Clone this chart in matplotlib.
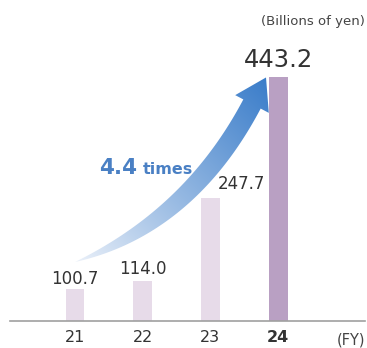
import numpy as np
import matplotlib.pyplot as plt
from matplotlib.patches import Polygon

# Sales by fiscal year (billions of yen)
years = ['21', '22', '23', '24']
sales = [100.7, 114.0, 247.7, 443.2]
sales_labels = ['100.7', '114.0', '247.7', '443.2']
growth_text = '4.4'
unit_text = '(Billions of yen)'

W, H = 367, 348
fig = plt.figure(figsize=(W / 100, H / 100), dpi=100)

# overlay in pixel coordinates for the growth arrow
ov = fig.add_axes([0, 0, 1, 1], zorder=0)
ov.set_xlim(0, W)
ov.set_ylim(H, 0)
ov.axis('off')

ax = fig.add_axes([10 / W, (H - 321) / H, 355 / W, 291 / H], zorder=1)
ax.patch.set_visible(False)

x = np.arange(len(years))
colors = ['#e7dbe9', '#e7dbe9', '#e7dbe9', '#b9a0c3']
ax.bar(x, sales, width=0.28, color=colors, zorder=2)
ax.set_xlim(-0.96, 4.285)
ax.set_ylim(50, 518)

for sp in ['left', 'right', 'top']:
    ax.spines[sp].set_visible(False)
ax.spines['bottom'].set_color('#a0a0a0')
ax.spines['bottom'].set_linewidth(1.2)
ax.set_yticks([])
ax.set_xticks(x, years)
ax.tick_params(axis='x', length=0, pad=6.5, labelsize=11.5, labelcolor='#333333')
ax.get_xticklabels()[-1].set_fontweight('bold')

# value labels
txt = dict(color='#333333', va='baseline', textcoords='offset points')
ax.annotate(sales_labels[0], (x[0], sales[0]), xytext=(0, 4.3), ha='center', fontsize=12, **txt)
ax.annotate(sales_labels[1], (x[1], sales[1]), xytext=(0, 5.3), ha='center', fontsize=12, **txt)
ax.annotate(sales_labels[2], (x[2], sales[2]), xytext=(5.6, 6.8), ha='left', fontsize=12, **txt)
ax.annotate(sales_labels[3], (x[3], sales[3]), xytext=(0, 6.5), ha='center', fontsize=17.5, **txt)

ov.text(365, 21, unit_text, ha='right', va='center', fontsize=9.5, color='#444444')
ov.text(365, 340, '(FY)', ha='right', va='center', fontsize=10.5, color='#444444')

# curved arrow: quadratic bezier shaft + triangular head
p0 = np.array([75.0, 262.0])
p1 = np.array([189.8, 221.8])
p2 = np.array([252.0, 104.0])
t = np.linspace(0, 1, 80)
pts = ((1 - t) ** 2)[:, None] * p0 + (2 * (1 - t) * t)[:, None] * p1 + (t ** 2)[:, None] * p2
der = (2 * (1 - t))[:, None] * (p1 - p0) + (2 * t)[:, None] * (p2 - p1)
der /= np.linalg.norm(der, axis=1)[:, None]
nrm = np.column_stack([der[:, 1], -der[:, 0]])
half = 9.8 * (1 - (1 - t) ** 3)
upper = pts + nrm * half[:, None]
lower = pts - nrm * half[:, None]

d = der[-1]
n = nrm[-1]
tip = p2 + d * 30
c1 = p2 + n * 19
c2 = p2 - n * 19
outline = np.vstack([upper, c1, tip, c2, lower[::-1]])
arrow = Polygon(outline, closed=True, facecolor='none', edgecolor='none')
ov.add_patch(arrow)

gx, gy = np.meshgrid(np.arange(W) + 0.5, np.arange(H) + 0.5)
a = np.array([75.0, 262.0])
b = np.array([266.0, 78.0])
ab = b - a
s = ((gx - a[0]) * ab[0] + (gy - a[1]) * ab[1]) / (ab @ ab)
s = np.clip(s, 0, 1) ** 0.9
pale = np.array([0.93, 0.95, 0.98])
blue = np.array([0.23, 0.49, 0.79])
img = np.empty((H, W, 4))
img[..., :3] = pale + (blue - pale) * s[..., None]
img[..., 3] = 1.0
im = ov.imshow(img, extent=(0, W, H, 0), origin='upper', aspect='auto', interpolation='bilinear')
im.set_clip_path(arrow)

ov.text(99, 174, growth_text, ha='left', va='baseline', fontsize=15.5,
        fontweight='bold', color='#4a80c4')
ov.text(143, 174, 'times', ha='left', va='baseline', fontsize=11.5,
        fontweight='bold', color='#4a80c4')

fig.savefig('out.png', dpi=100)
